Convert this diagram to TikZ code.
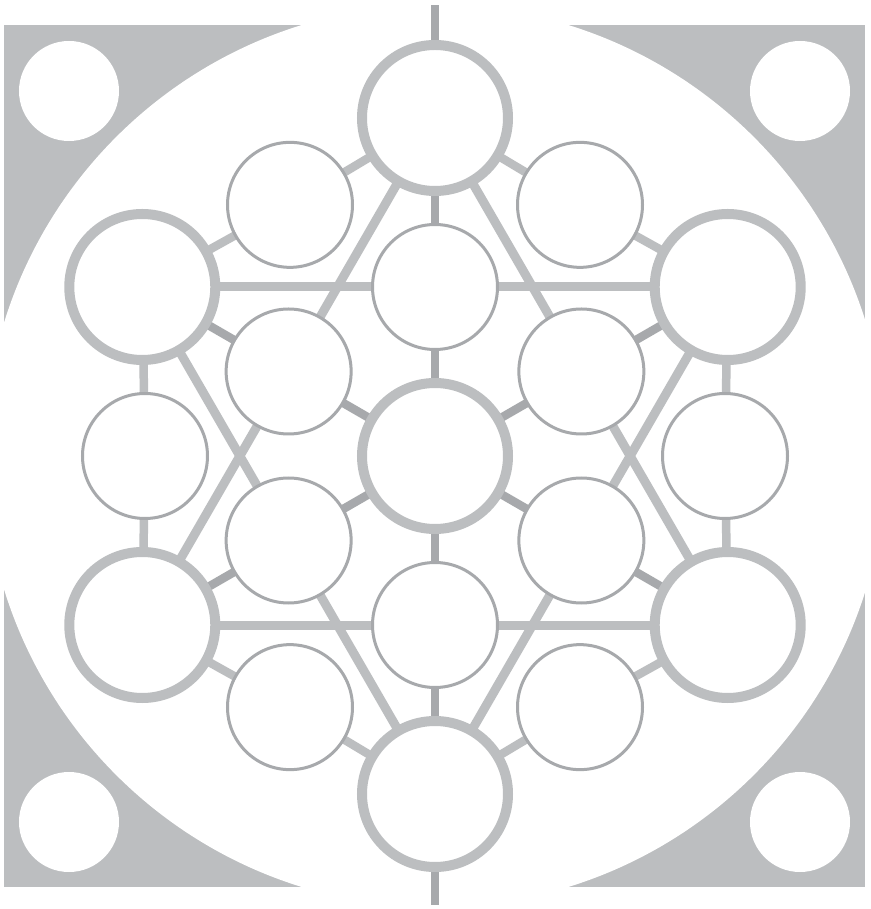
\documentclass[tikz,border=0pt]{standalone}
\usetikzlibrary{calc}
\pgfdeclarelayer{back}
\pgfdeclarelayer{mid}
\pgfsetlayers{back,mid,main}
\definecolor{lg}{RGB}{188,190,192}
\definecolor{dg}{RGB}{167,169,172}
\tikzset{
  bigc/.style={circle, draw=lg, fill=white, line width=10pt, minimum size=146pt, inner sep=0pt, outer sep=0pt},
  smlc/.style={circle, draw=dg, fill=white, line width=3pt, minimum size=125pt, inner sep=0pt, outer sep=0pt},
  spoke/.style={draw=dg, line width=8.5pt},
  ringl/.style={draw=lg, line width=8.5pt},
  tril/.style={draw=lg, line width=9pt}
}
\begin{document}
\begin{tikzpicture}[x=1pt,y=1pt]
\useasboundingbox (-435,-453) rectangle (435,456);
\begin{pgfonlayer}{back}
  \fill[lg] (-431,-431) rectangle (430,431);
  \fill[white] (0,0) circle (451pt);
  \fill[white] (-366,365) circle (50pt);
  \fill[white] (365,365) circle (50pt);
  \fill[white] (-366,-366) circle (50pt);
  \fill[white] (365,-366) circle (50pt);
\end{pgfonlayer}
% nodes
\node[bigc] (C) at (0,0) {};
\foreach \a in {30,90,...,330} {
  \node[bigc] (B\a) at (\a:338) {};
  \node[smlc] (I\a) at (\a:169) {};
}
\foreach \a in {0,60,...,300} {
  \node[smlc] (S\a) at (\a:290) {};
}
\coordinate (T) at (0,451);
\coordinate (D) at (0,-449);
\begin{pgfonlayer}{mid}
  % triangles
  \draw[tril] (B90) -- (B210);
  \draw[tril] (B210) -- (B330);
  \draw[tril] (B330) -- (B90);
  \draw[tril] (B30) -- (B150);
  \draw[tril] (B150) -- (B270);
  \draw[tril] (B270) -- (B30);
  % spokes
  \foreach \a in {30,90,...,330} {
    \draw[spoke] (C) -- (I\a);
    \draw[spoke] (I\a) -- (B\a);
  }
  \draw[spoke] (B90) -- (T);
  \draw[spoke] (B270) -- (D);
  % ring
  \foreach \a [evaluate=\a as \b using {int(\a+30)}, evaluate=\a as \c using {int(mod(\a+330,360))}] in {0,60,...,300} {
    \draw[ringl] (S\a) -- (B\b);
    \draw[ringl] (S\a) -- (B\c);
  }
\end{pgfonlayer}
\end{tikzpicture}
\end{document}
